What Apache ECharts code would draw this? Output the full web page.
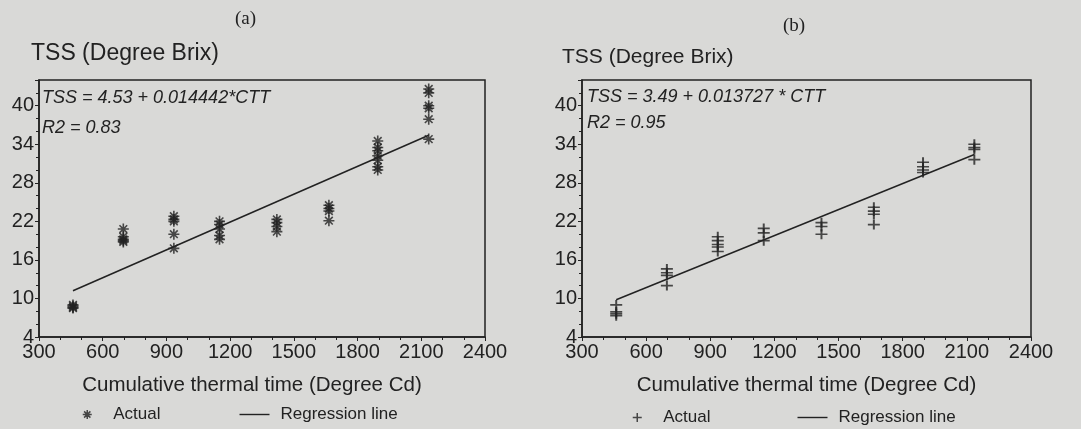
<!DOCTYPE html>
<html>
<head>
<meta charset="utf-8">
<title>TSS vs cumulative thermal time</title>
<script src="https://cdn.jsdelivr.net/npm/echarts@6/dist/echarts.min.js"></script>
<style>
  html, body { margin: 0; padding: 0; background: #d9d9d7; }
  #chart { width: 1081px; height: 429px; }
</style>
</head>
<body>
<div id="chart"></div>
<script>
// sampling dates as cumulative thermal time (Degree Cd)
const ctt = [460, 697, 935, 1150, 1420, 1665, 1895, 2135];

// panel (a): TSS readings at each date
const tssA = [
  [8.5, 8.8, 9.0, 8.6],
  [20.8, 19.6, 19.2, 19.0, 18.8],
  [22.8, 22.3, 22.0, 20.0, 17.8],
  [22.0, 21.5, 20.8, 19.8, 19.2],
  [22.3, 21.8, 21.2, 20.4],
  [24.5, 24.0, 23.6, 22.1],
  [34.5, 33.5, 33.0, 32.2, 31.5, 30.5, 30.0],
  [42.6, 42.0, 40.0, 39.6, 37.9, 34.8]
];
// panel (b)
const tssB = [
  [9.0, 7.9, 7.6, 7.3],
  [14.6, 14.0, 13.6, 12.0],
  [19.6, 19.0, 18.4, 18.0, 17.3],
  [20.9, 20.2, 19.0],
  [21.8, 21.2, 20.0],
  [24.2, 23.6, 23.1, 21.5],
  [31.2, 30.5, 30.0, 29.6],
  [34.0, 33.5, 33.2, 31.6]
];

// regression line end points
const regA = [[460, 11.2], [2135, 35.4]];
const regB = [[460, 9.8], [2135, 32.4]];

const eqA = ['TSS = 4.53 + 0.014442*CTT', 'R2 = 0.83'];
const eqB = ['TSS = 3.49 + 0.013727 * CTT', 'R2 = 0.95'];

const yTicks = { min: 4, max: 44, interval: 6 };
const xTicks = { min: 300, max: 2400, interval: 300 };

const ink = '#222';
const sans = '"Liberation Sans", Arial, sans-serif';
const starPath = 'path://M0,5L10,5M5,0L5,10M1.5,1.5L8.5,8.5M8.5,1.5L1.5,8.5';
const plusPath = 'path://M0,5L10,5M5,0L5,10';
const dashPath = 'path://M0,0L30,0L30,1.4L0,1.4Z';

const toPoints = (xs, groups) => {
  const pts = [];
  groups.forEach((vals, i) => vals.forEach(v => pts.push([xs[i], v])));
  return pts;
};

const xAxisFor = (idx, shift) => ({
  gridIndex: idx,
  type: 'value',
  min: xTicks.min,
  max: xTicks.max,
  interval: xTicks.interval,
  name: 'Cumulative thermal time (Degree Cd)',
  nameLocation: 'middle',
  nameGap: 38,
  nameTextStyle: { fontFamily: sans, fontSize: 20.5, color: ink, padding: [0, shift, 0, 0] },
  axisLine: { show: true, lineStyle: { color: ink, width: 1.5 } },
  axisTick: { show: true, length: 4, lineStyle: { color: ink } },
  minorTick: { show: true, splitNumber: 3, length: 3, lineStyle: { color: ink } },
  axisLabel: { fontFamily: sans, fontSize: 20, color: ink, margin: 5, formatter: v => String(v) },
  splitLine: { show: false }
});

const yAxisFor = idx => ({
  gridIndex: idx,
  type: 'value',
  min: yTicks.min,
  max: yTicks.max,
  interval: yTicks.interval,
  axisLine: { show: true, lineStyle: { color: ink, width: 1.5 } },
  axisTick: { show: true, length: 4, lineStyle: { color: ink } },
  minorTick: { show: true, splitNumber: 3, length: 3, lineStyle: { color: ink } },
  axisLabel: { fontFamily: sans, fontSize: 20, color: ink, margin: 5, showMaxLabel: false },
  splitLine: { show: false }
});

const textAt = (text, left, top, style) => ({
  text, left, top, padding: 0,
  textStyle: Object.assign({ fontFamily: sans, color: ink, fontWeight: 'normal' }, style)
});

const legendFor = (left, top, icon, gap) => ({
  left, top,
  padding: 0,
  orient: 'horizontal',
  itemWidth: 30,
  itemHeight: 9,
  itemGap: gap,
  selectedMode: false,
  textStyle: { fontFamily: sans, fontSize: 17, color: ink, padding: [0, 0, 0, 6] },
  data: [
    { name: 'Actual', icon, itemStyle: { color: 'transparent', borderColor: ink, borderWidth: 1.5 } },
    { name: 'Regression line', icon: dashPath, itemStyle: { color: ink, borderWidth: 0 } }
  ]
});

const chart = echarts.init(document.getElementById('chart'));
chart.setOption({
  backgroundColor: '#d9d9d7',
  animation: false,
  title: [
    textAt('(a)', 235, 10, { fontFamily: '"Liberation Serif", serif', fontSize: 19 }),
    textAt('(b)', 783, 17, { fontFamily: '"Liberation Serif", serif', fontSize: 19 }),
    textAt('TSS (Degree Brix)', 31, 42, { fontSize: 23 }),
    textAt('TSS (Degree Brix)', 562, 47, { fontSize: 21 }),
    textAt(eqA[0], 42, 89, { fontSize: 18, fontStyle: 'italic' }),
    textAt(eqA[1], 42, 119, { fontSize: 18, fontStyle: 'italic' }),
    textAt(eqB[0], 587, 88, { fontSize: 18, fontStyle: 'italic' }),
    textAt(eqB[1], 587, 114, { fontSize: 18, fontStyle: 'italic' })
  ],
  legend: [
    legendFor(82, 406, starPath, 79),
    legendFor(632, 409, plusPath, 87)
  ],
  grid: [
    { left: 39, top: 80, width: 446, height: 257, show: true, borderColor: ink, borderWidth: 1.5, backgroundColor: 'transparent' },
    { left: 582, top: 80, width: 449, height: 257, show: true, borderColor: ink, borderWidth: 1.5, backgroundColor: 'transparent' }
  ],
  xAxis: [xAxisFor(0, 20), xAxisFor(1, 0)],
  yAxis: [yAxisFor(0), yAxisFor(1)],
  series: [
    {
      name: 'Actual', type: 'scatter', xAxisIndex: 0, yAxisIndex: 0,
      symbol: starPath, symbolSize: 11,
      itemStyle: { color: 'transparent', borderColor: ink, borderWidth: 1.6 },
      data: toPoints(ctt, tssA)
    },
    {
      name: 'Regression line', type: 'line', xAxisIndex: 0, yAxisIndex: 0,
      symbol: 'none', lineStyle: { color: ink, width: 1.5 },
      data: regA
    },
    {
      name: 'Actual', type: 'scatter', xAxisIndex: 1, yAxisIndex: 1,
      symbol: plusPath, symbolSize: [12, 10],
      itemStyle: { color: 'transparent', borderColor: ink, borderWidth: 1.8 },
      data: toPoints(ctt, tssB)
    },
    {
      name: 'Regression line', type: 'line', xAxisIndex: 1, yAxisIndex: 1,
      symbol: 'none', lineStyle: { color: ink, width: 1.5 },
      data: regB
    }
  ]
});
</script>
</body>
</html>
